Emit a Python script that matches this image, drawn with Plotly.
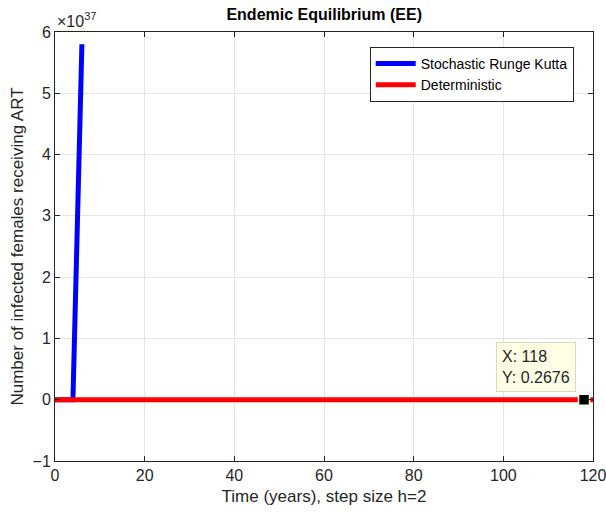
import plotly.graph_objects as go

# Time grid (years), step size h = 2
stoch_t = [0, 2, 4, 6]
# Stochastic Runge-Kutta solution (blows up after t = 6)
stoch_y = [0.30, 0.29, 0.28, 5.8e37]

det_t = [0, 10, 20, 30, 40, 50, 60, 70, 80, 90, 100, 110, 118, 120]
det_y = [0.30, 0.29, 0.285, 0.28, 0.277, 0.274, 0.272, 0.271, 0.270, 0.269, 0.268, 0.2678, 0.2676, 0.2676]

# Data tip point
tip_x = 118
tip_y = 0.2676

SCALE = 1e37
y_ticks = [-1, 0, 1, 2, 3, 4, 5, 6]
x_ticks = [0, 20, 40, 60, 80, 100, 120]

font = "Liberation Sans, Arial, sans-serif"
ink = "#262626"

fig = go.Figure()
fig.add_trace(go.Scatter(
    x=stoch_t, y=[v / SCALE for v in stoch_y], mode="lines",
    line=dict(color="#0000FF", width=5), name="Stochastic Runge Kutta"))
fig.add_trace(go.Scatter(
    x=det_t, y=[v / SCALE for v in det_y], mode="lines",
    line=dict(color="#FF0000", width=5), name="Deterministic"))
fig.add_trace(go.Scatter(
    x=[tip_x], y=[tip_y / SCALE], mode="markers",
    marker=dict(symbol="square", size=11, color="black",
                line=dict(color="#FFFFE1", width=1.5)),
    showlegend=False, hoverinfo="skip", cliponaxis=False))

fig.add_annotation(
    x=98.4, y=0.13, xref="x", yref="y", xanchor="left", yanchor="bottom",
    text=f"X: {tip_x}<br>Y: {tip_y}", showarrow=False, align="left",
    font=dict(size=16, color=ink, family=font),
    bgcolor="#FFFFE6", bordercolor="#D9D9C0", borderwidth=1, borderpad=5)

fig.add_annotation(
    x=0.0, y=1.0, xref="paper", yref="paper", xanchor="left", yanchor="bottom",
    text="×10<sup>37</sup>", showarrow=False,
    font=dict(size=16, color=ink, family=font), yshift=0)

axis_common = dict(
    showline=True, linecolor=ink, linewidth=1, mirror="ticks",
    ticks="inside", ticklen=5, tickcolor=ink, automargin=False,
    ticklabeloverflow="allow",
    showgrid=True, gridcolor="#E6E6E6", gridwidth=1, zeroline=False,
    tickfont=dict(size=16, color=ink, family=font))

fig.update_xaxes(range=[0, 120], tickvals=x_ticks,
                 title=dict(text="Time (years), step size h=2",
                            font=dict(size=17, color=ink, family=font), standoff=6),
                 **axis_common)
fig.update_yaxes(range=[-1, 6], tickvals=y_ticks,
                 title=dict(text="Number of infected females receiving ART",
                            font=dict(size=17, color=ink, family=font), standoff=4),
                 **axis_common)

fig.update_layout(
    width=606, height=519,
    margin=dict(l=55, r=13, t=32, b=58),
    paper_bgcolor="white", plot_bgcolor="white",
    title=dict(text="<b>Endemic Equilibrium (EE)</b>", x=0.535, xanchor="center",
               y=0.973, yanchor="middle",
               font=dict(size=16, color="black", family=font)),
    legend=dict(x=0.585, y=0.965, xanchor="left", yanchor="top",
                bgcolor="white", bordercolor=ink, borderwidth=1,
                font=dict(size=14, color="black", family=font),
                tracegroupgap=0, itemwidth=40),
    showlegend=True)

fig.write_html("out.html")
